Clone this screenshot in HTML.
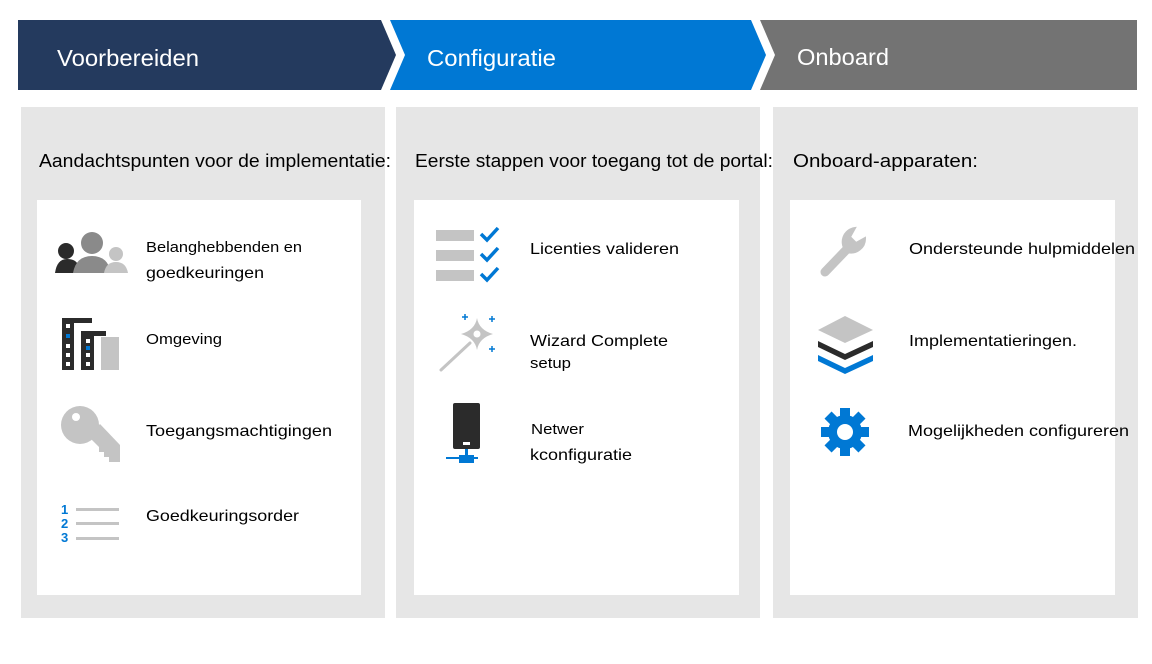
<!DOCTYPE html>
<html><head><meta charset="utf-8"><style>
html,body{margin:0;padding:0;background:#fff;}
svg{display:block;}
text{font-family:"Liberation Sans",Arial,sans-serif;}
</style></head><body>
<svg width="1152" height="664" viewBox="0 0 1152 664" xmlns="http://www.w3.org/2000/svg">
<rect width="1152" height="664" fill="#fff"/>
<polygon points="18,20 381,20 396,55 381,90 18,90" fill="#243a5e"/>
<polygon points="390,20 751,20 766,55 751,90 390,90 405,55" fill="#0078d4"/>
<polygon points="760,20 1137,20 1137,90 760,90 775,55" fill="#737373"/>
<g font-size="23" fill="#fff" lengthAdjust="spacingAndGlyphs">
<text x="57" y="66" textLength="142" lengthAdjust="spacingAndGlyphs">Voorbereiden</text>
<text x="427" y="66" textLength="129" lengthAdjust="spacingAndGlyphs">Configuratie</text>
<text x="797" y="65" textLength="92" lengthAdjust="spacingAndGlyphs">Onboard</text>
</g>
<rect x="21" y="107" width="364" height="511" fill="#e6e6e6"/>
<rect x="396" y="107" width="364" height="511" fill="#e6e6e6"/>
<rect x="773" y="107" width="365" height="511" fill="#e6e6e6"/>
<rect x="37" y="200" width="324" height="395" fill="#fff"/>
<rect x="414" y="200" width="325" height="395" fill="#fff"/>
<rect x="790" y="200" width="325" height="395" fill="#fff"/>
<text x="39" y="167" font-size="18" fill="#000" textLength="352" lengthAdjust="spacingAndGlyphs">Aandachtspunten voor de implementatie:</text>
<text x="415" y="167" font-size="18" fill="#000" textLength="358" lengthAdjust="spacingAndGlyphs">Eerste stappen voor toegang tot de portal:</text>
<text x="793" y="167" font-size="18" fill="#000" textLength="185" lengthAdjust="spacingAndGlyphs">Onboard-apparaten:</text>
<g font-size="16" fill="#000">
<text x="146" y="252" font-size="15" textLength="156" lengthAdjust="spacingAndGlyphs">Belanghebbenden en</text>
<text x="146" y="278" textLength="118" lengthAdjust="spacingAndGlyphs">goedkeuringen</text>
<text x="146" y="344" font-size="15" textLength="76" lengthAdjust="spacingAndGlyphs">Omgeving</text>
<text x="146" y="436" textLength="186" lengthAdjust="spacingAndGlyphs">Toegangsmachtigingen</text>
<text x="146" y="521" textLength="153" lengthAdjust="spacingAndGlyphs">Goedkeuringsorder</text>
</g>
<circle cx="66" cy="251" r="8" fill="#2b2b2b"/>
<path d="M55,273 q2,-14 12,-14 q9,0 11,6 l-4,8 z" fill="#2b2b2b"/>
<circle cx="92" cy="243" r="11" fill="#8a8a8a"/>
<path d="M73,273 q3,-17 19,-17 q16,0 19,17 z" fill="#8a8a8a"/>
<circle cx="116" cy="254" r="7" fill="#c4c4c4"/>
<path d="M104,273 q2,-11 12,-11 q10,0 12,11 z" fill="#c4c4c4"/>
<rect x="62" y="318" width="12" height="52" fill="#2b2b2b"/><rect x="62" y="318" width="30" height="5" fill="#2b2b2b"/>
<rect x="81" y="331" width="13" height="39" fill="#2b2b2b"/><rect x="81" y="331" width="25" height="5" fill="#2b2b2b"/>
<rect x="101" y="337" width="18" height="33" fill="#c4c4c4"/>
<g fill="#fff"><rect x="66" y="324" width="4" height="4"/><rect x="66" y="344" width="4" height="4"/><rect x="66" y="353" width="4" height="4"/><rect x="66" y="362" width="4" height="4"/>
<rect x="86" y="339" width="4" height="4"/><rect x="86" y="353" width="4" height="4"/><rect x="86" y="362" width="4" height="4"/></g>
<rect x="66" y="334" width="4" height="4" fill="#0078d4"/><rect x="86" y="346" width="4" height="4" fill="#0078d4"/>
<circle cx="80" cy="425" r="19" fill="#c4c4c4"/>
<polygon points="88,436 100,424 120,445 120,462 109,462 109,457 104,457 104,452 99,452 99,447" fill="#c4c4c4"/>
<circle cx="76" cy="417" r="4" fill="#fff"/>
<text x="61" y="514" font-size="13" font-weight="bold" fill="#0078d4">1</text>
<text x="61" y="528" font-size="13" font-weight="bold" fill="#0078d4">2</text>
<text x="61" y="542" font-size="13" font-weight="bold" fill="#0078d4">3</text>
<rect x="76" y="508" width="43" height="3" fill="#c4c4c4"/>
<rect x="76" y="522" width="43" height="3" fill="#c4c4c4"/>
<rect x="76" y="537" width="43" height="3" fill="#c4c4c4"/>
<g font-size="16" fill="#000">
<text x="530" y="254" textLength="149" lengthAdjust="spacingAndGlyphs">Licenties valideren</text>
<text x="530" y="346" textLength="138" lengthAdjust="spacingAndGlyphs">Wizard Complete</text>
<text x="530" y="368" font-size="15" textLength="41" lengthAdjust="spacingAndGlyphs">setup</text>
<text x="531" y="434" font-size="15" textLength="53" lengthAdjust="spacingAndGlyphs">Netwer</text>
<text x="530" y="460" textLength="102" lengthAdjust="spacingAndGlyphs">kconfiguratie</text>
</g>
<g fill="#c4c4c4"><rect x="436" y="230" width="38" height="11"/><rect x="436" y="250" width="38" height="11"/><rect x="436" y="270" width="38" height="11"/></g>
<g stroke="#0078d4" stroke-width="3.5" fill="none"><polyline points="481,234 487,240 498,228"/><polyline points="481,254 487,260 498,248"/><polyline points="481,274 487,280 498,268"/></g>
<line x1="441" y1="370" x2="470" y2="343" stroke="#c4c4c4" stroke-width="3" stroke-linecap="round"/>
<path d="M477,318 q2,12 16,16 q-14,4 -16,16 q-2,-12 -16,-16 q14,-4 16,-16z" fill="#c4c4c4"/>
<circle cx="477" cy="334" r="3.5" fill="#fff"/>
<g stroke="#0078d4" stroke-width="1.5"><path d="M462,317h6M465,314v6M489,319h6M492,316v6M489,349h6M492,346v6"/></g>
<rect x="453" y="403" width="27" height="46" rx="2" fill="#2b2b2b"/>
<rect x="463" y="442" width="7" height="3" fill="#fff"/>
<rect x="465" y="449" width="3" height="6" fill="#0078d4"/>
<rect x="446" y="457" width="32" height="2" fill="#0078d4"/>
<rect x="459" y="455" width="15" height="8" fill="#0078d4"/>
<g font-size="16" fill="#000">
<text x="909" y="254" textLength="226" lengthAdjust="spacingAndGlyphs">Ondersteunde hulpmiddelen</text>
<text x="909" y="346" textLength="168" lengthAdjust="spacingAndGlyphs">Implementatieringen.</text>
<text x="908" y="436" textLength="221" lengthAdjust="spacingAndGlyphs">Mogelijkheden configureren</text>
</g>
<path d="M825,272 l24,-25" stroke="#c4c4c4" stroke-width="9" stroke-linecap="round"/>
<path d="M847,252 a14,14 0 0 1 8,-24 l-5,9 6,6 9,-5 a14,14 0 0 1 -18,14z" fill="#c4c4c4" stroke="#c4c4c4" stroke-width="2"/>
<polygon points="845,316 873,330 845,343 818,330" fill="#c4c4c4"/>
<polygon points="818,341 845,354 873,341 873,347 845,360 818,347" fill="#2b2b2b"/>
<polygon points="818,355 845,368 873,355 873,361 845,374 818,361" fill="#0078d4"/>
<g transform="translate(845,432)">
<circle r="17" fill="#0078d4"/>
<g fill="#0078d4"><rect x="-5" y="-24" width="10" height="48"/><rect x="-5" y="-24" width="10" height="48" transform="rotate(45)"/><rect x="-5" y="-24" width="10" height="48" transform="rotate(90)"/><rect x="-5" y="-24" width="10" height="48" transform="rotate(135)"/></g>
<circle r="8" fill="#fff"/>
</g>
</svg>
</body></html>
